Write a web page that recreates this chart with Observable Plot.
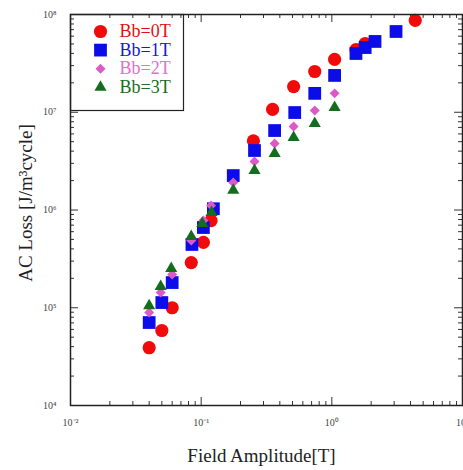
<!DOCTYPE html>
<html><head><meta charset="utf-8">
<script src="https://cdn.jsdelivr.net/npm/d3@7"></script>
<script src="https://cdn.jsdelivr.net/npm/@observablehq/plot@0.6"></script>
<style>body{margin:0;background:#fff}</style>
</head><body><div id="chart"></div>
<script>
const seriesNames = ["Bb=0T", "Bb=1T", "Bb=2T", "Bb=3T"];
const field0 = [0.04, 0.05, 0.06, 0.084, 0.104, 0.119, 0.251, 0.352, 0.51, 0.74, 1.05, 1.53, 1.8, 4.35];
const loss0  = [3.9e4, 5.85e4, 1.0e5, 2.9e5, 4.66e5, 7.8e5, 5.1e6, 1.07e7, 1.83e7, 2.61e7, 3.47e7, 4.38e7, 5.05e7, 8.7e7];
const field1 = [0.04, 0.05, 0.06, 0.085, 0.104, 0.124, 0.176, 0.256, 0.365, 0.52, 0.74, 1.05, 1.53, 1.8, 2.14, 3.1];
const loss1  = [7.06e4, 1.13e5, 1.81e5, 4.44e5, 6.62e5, 1.03e6, 2.25e6, 4.06e6, 6.5e6, 9.93e6, 1.56e7, 2.38e7, 3.99e7, 4.59e7, 5.3e7, 6.7e7];
const field2 = [0.04, 0.049, 0.06, 0.084, 0.104, 0.119, 0.176, 0.256, 0.365, 0.51, 0.74, 1.05];
const loss2  = [8.93e4, 1.43e5, 2.19e5, 4.88e5, 7.8e5, 1.11e6, 1.91e6, 3.13e6, 4.79e6, 7.14e6, 1.04e7, 1.56e7];
const field3 = [0.04, 0.049, 0.059, 0.084, 0.102, 0.12, 0.176, 0.256, 0.365, 0.51, 0.74, 1.05];
const loss3  = [1.05e5, 1.65e5, 2.52e5, 5.36e5, 7.28e5, 9.42e5, 1.59e6, 2.54e6, 3.78e6, 5.52e6, 7.67e6, 1.12e7];
const xMajorTicks = [0.01, 0.1, 1, 10];
const yMajorTicks = [1e4, 1e5, 1e6, 1e7, 1e8];
const minorMultipliers = [2, 3, 4, 5, 6, 7, 8, 9];
const xLabel = "Field Amplitude[T]";
const yLabel = "AC Loss [J/m\u00B3cycle]";

const fields = [field0, field1, field2, field3];
const losses = [loss0, loss1, loss2, loss3];
const symbols = ["circle", "square", "diamond2", "triangle"];
const radii = [6.6, 7.2, 4.5, 4.5];
const colors = ["#f00a0a", "#0c0ce8", "#dc5ac8", "#146c1e"];
const textColors = ["#e01010", "#1818d0", "#e070c8", "#1c6c24"];

const W = 463, H = 470, mL = 70, mR = 1, mT = 14, mB = 65;
const fw = W - mL - mR, fh = H - mT - mB;
const xMinor = xMajorTicks.slice(0, -1).flatMap(d => minorMultipliers.map(m => m * d));
const yMinor = yMajorTicks.slice(0, -1).flatMap(d => minorMultipliers.map(m => m * d));
const sup = {"-": "\u207B", "0": "\u2070", "1": "\u00B9", "2": "\u00B2", "3": "\u00B3", "4": "\u2074", "5": "\u2075", "6": "\u2076", "7": "\u2077", "8": "\u2078", "9": "\u2079"};
const fmt = d => "10" + String(Math.round(Math.log10(d))).split("").map(c => sup[c]).join("");

const tickColor = "#333";
const majorLen = 8, minorLen = 4;
const marks = [];
// ticks (inward on all four sides)
for (const [vals, len] of [[xMajorTicks, majorLen], [xMinor, minorLen]]) {
  marks.push(Plot.tickX(vals, {x: d => d, insetTop: fh - len, stroke: tickColor}));
  marks.push(Plot.tickX(vals, {x: d => d, insetBottom: fh - len, stroke: tickColor}));
}
for (const [vals, len] of [[yMajorTicks, majorLen], [yMinor, minorLen]]) {
  marks.push(Plot.tickY(vals, {y: d => d, insetRight: fw - len, stroke: tickColor}));
  marks.push(Plot.tickY(vals, {y: d => d, insetLeft: fw - len, stroke: tickColor}));
}
// tick labels
marks.push(Plot.text(xMajorTicks, {x: d => d, frameAnchor: "bottom", dy: 17, lineAnchor: "middle", textAnchor: "middle", text: fmt, fontSize: 10, fill: "#444", fontFamily: "Liberation Serif"}));
marks.push(Plot.text(yMajorTicks, {y: d => d, frameAnchor: "left", dx: -14, lineAnchor: "middle", textAnchor: "end", text: fmt, fontSize: 10, fill: "#444", fontFamily: "Liberation Serif"}));
// data
fields.forEach((f, i) => {
  marks.push(Plot.dot(f.map((x, j) => ({x, y: losses[i][j]})), {x: "x", y: "y", symbol: () => symbols[i], r: radii[i], fill: colors[i], stroke: "none"}));
});
// frame
marks.push(Plot.frame({stroke: "#222", strokeWidth: 1.5}));
// legend box
marks.push(Plot.frame({stroke: "#222", strokeWidth: 1.2, insetRight: fw - 113, insetBottom: fh - 96}));
seriesNames.forEach((name, i) => {
  const dy = 17 + i * 18.6;
  marks.push(Plot.dot([name], {frameAnchor: "top-left", dx: 30, dy, symbol: () => symbols[i], r: radii[i], fill: colors[i], stroke: "none"}));
  marks.push(Plot.text([name], {frameAnchor: "top-left", dx: 49, dy, text: d => d, textAnchor: "start", lineAnchor: "middle", fontSize: 18, fill: textColors[i], fontFamily: "Liberation Serif"}));
});
// axis labels
marks.push(Plot.text([xLabel], {frameAnchor: "bottom", dy: 50, dx: -5, text: d => d, textAnchor: "middle", lineAnchor: "middle", fontSize: 19, fill: "#222", fontFamily: "Liberation Serif"}));
marks.push(Plot.text([yLabel], {frameAnchor: "left", dx: -45, dy: -7, rotate: -90, text: d => d, textAnchor: "middle", lineAnchor: "middle", fontSize: 19, fill: "#222", fontFamily: "Liberation Serif"}));

const chart = Plot.plot({
  width: W, height: H,
  marginLeft: mL, marginRight: mR, marginTop: mT, marginBottom: mB,
  x: {type: "log", domain: [0.01, 10], axis: null},
  y: {type: "log", domain: [1e4, 1e8], axis: null},
  style: {background: "#fff", overflow: "visible"},
  marks
});
document.getElementById("chart").appendChild(chart);
</script>
</body></html>
